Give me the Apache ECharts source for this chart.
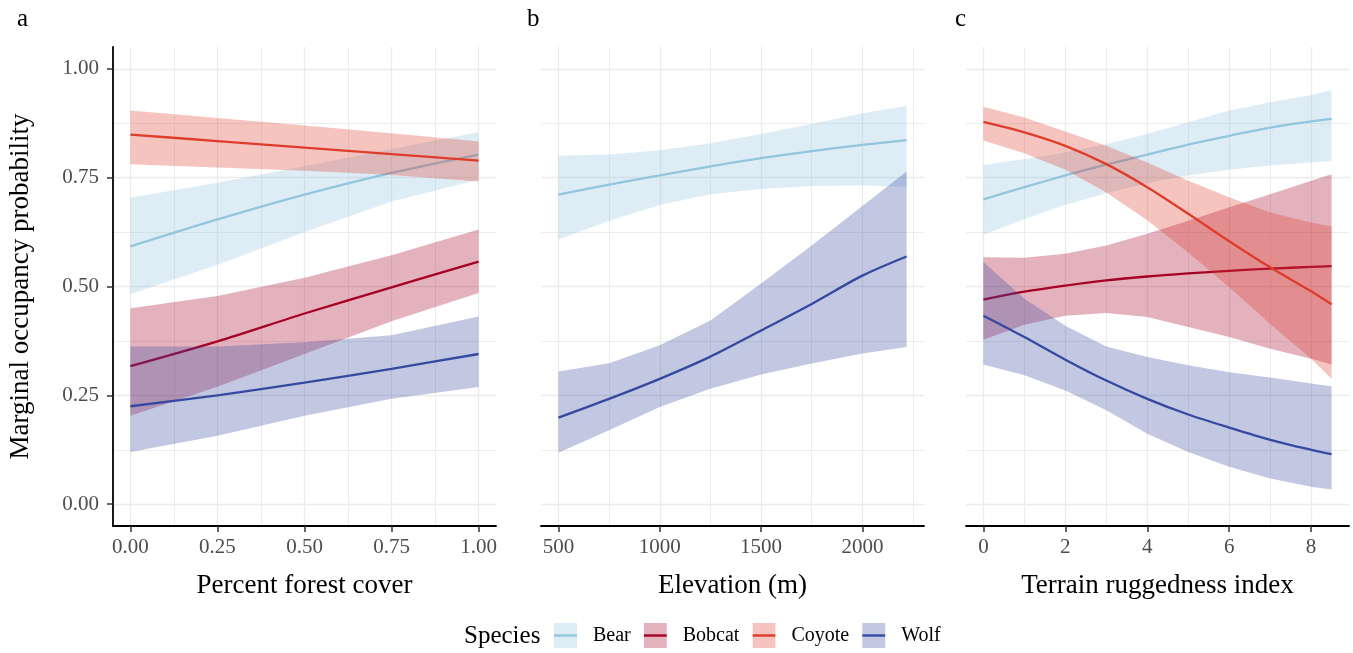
<!DOCTYPE html>
<html>
<head>
<meta charset="utf-8">
<title>Marginal occupancy probability</title>
<script src="https://cdn.jsdelivr.net/npm/echarts@6/dist/echarts.min.js"></script>
<style>
html, body { margin: 0; padding: 0; background: #fff; }
#main { width: 1353px; height: 653px; }
</style>
</head>
<body>
<div id="main"></div>
<script>
// panel a: percent forest cover
var forestX = [0, 0.25, 0.5, 0.75, 1];
var forestBear = [0.592, 0.654, 0.711, 0.761, 0.803];
var forestBearLo = [0.482, 0.550, 0.625, 0.695, 0.745];
var forestBearHi = [0.704, 0.738, 0.776, 0.816, 0.854];
var forestBobcat = [0.317, 0.374, 0.438, 0.498, 0.557];
var forestBobcatLo = [0.203, 0.270, 0.345, 0.420, 0.485];
var forestBobcatHi = [0.450, 0.478, 0.520, 0.572, 0.631];
var forestCoyote = [0.849, 0.834, 0.819, 0.804, 0.789];
var forestCoyoteLo = [0.781, 0.773, 0.766, 0.756, 0.741];
var forestCoyoteHi = [0.904, 0.887, 0.870, 0.852, 0.833];
var forestWolf = [0.225, 0.250, 0.279, 0.311, 0.345];
var forestWolfLo = [0.120, 0.157, 0.203, 0.242, 0.269];
var forestWolfHi = [0.362, 0.362, 0.372, 0.388, 0.431];

// panel b: elevation (only bear and wolf)
var elevX = [500, 750, 1000, 1250, 1500, 1750, 2000, 2218];
var elevBear = [0.711, 0.734, 0.755, 0.776, 0.795, 0.811, 0.825, 0.836];
var elevBearLo = [0.608, 0.651, 0.687, 0.712, 0.724, 0.731, 0.732, 0.729];
var elevBearHi = [0.800, 0.803, 0.813, 0.829, 0.850, 0.873, 0.898, 0.915];
var elevWolf = [0.199, 0.242, 0.288, 0.339, 0.399, 0.460, 0.525, 0.569];
var elevWolfLo = [0.118, 0.170, 0.223, 0.265, 0.298, 0.323, 0.346, 0.361];
var elevWolfHi = [0.305, 0.324, 0.365, 0.422, 0.507, 0.594, 0.685, 0.764];

// panel c: terrain ruggedness
var ruggedX = [0, 1, 2, 3, 4, 5, 6, 7, 8, 8.5];
var ruggedBear = [0.700, 0.728, 0.755, 0.780, 0.803, 0.826, 0.846, 0.865, 0.879, 0.885];
var ruggedBearLo = [0.619, 0.655, 0.688, 0.714, 0.737, 0.755, 0.768, 0.778, 0.785, 0.788];
var ruggedBearHi = [0.779, 0.793, 0.808, 0.827, 0.850, 0.877, 0.904, 0.923, 0.940, 0.951];
var ruggedBobcat = [0.470, 0.488, 0.502, 0.514, 0.523, 0.530, 0.536, 0.541, 0.545, 0.547];
var ruggedBobcatLo = [0.378, 0.412, 0.433, 0.439, 0.430, 0.407, 0.384, 0.357, 0.334, 0.321];
var ruggedBobcatHi = [0.567, 0.566, 0.575, 0.594, 0.621, 0.651, 0.682, 0.712, 0.743, 0.758];
var ruggedCoyote = [0.878, 0.854, 0.823, 0.781, 0.728, 0.667, 0.604, 0.544, 0.489, 0.459];
var ruggedCoyoteLo = [0.835, 0.806, 0.768, 0.716, 0.652, 0.578, 0.498, 0.414, 0.334, 0.288];
var ruggedCoyoteHi = [0.913, 0.888, 0.856, 0.823, 0.785, 0.743, 0.705, 0.670, 0.647, 0.638];
var ruggedWolf = [0.433, 0.384, 0.332, 0.284, 0.242, 0.206, 0.176, 0.148, 0.125, 0.115];
var ruggedWolfLo = [0.321, 0.296, 0.261, 0.216, 0.162, 0.120, 0.086, 0.059, 0.040, 0.034];
var ruggedWolfHi = [0.556, 0.472, 0.410, 0.362, 0.338, 0.319, 0.303, 0.291, 0.277, 0.271];

// ticks
var yTicks = [0, 0.25, 0.5, 0.75, 1];
var yMinor = [0.125, 0.375, 0.625, 0.875];
var forestTicks = [0, 0.25, 0.5, 0.75, 1];
var forestMinor = [0.125, 0.375, 0.625, 0.875];
var elevTicks = [500, 1000, 1500, 2000];
var elevMinor = [750, 1250, 1750, 2250];
var ruggedTicks = [0, 2, 4, 6, 8];
var ruggedMinor = [1, 3, 5, 7];

var speciesNames = ['Bear', 'Bobcat', 'Coyote', 'Wolf'];
var speciesColors = {Bear: '#92c5de', Bobcat: '#a50026', Coyote: '#de3d2b', Wolf: '#3549a0'};

var FONT = '"Liberation Serif", "DejaVu Serif", serif';

function fade(hex, a) {
    var n = parseInt(hex.slice(1), 16);
    return 'rgba(' + (n >> 16) + ',' + ((n >> 8) & 255) + ',' + (n & 255) + ',' + a + ')';
}

function zip(x, y) {
    return x.map(function (v, i) { return [v, y[i]]; });
}
function zip3(x, lo, hi) {
    return x.map(function (v, i) { return [v, lo[i], hi[i]]; });
}

// whole ribbon as one polygon, drawn on the first item
function ribbon(fill) {
    return function (params, api) {
        if (params.dataIndexInside !== 0) return null;
        var n = params.dataInsideLength, top = [], bottom = [];
        for (var i = 0; i < n; i++) {
            top.push(api.coord([api.value(0, i), api.value(2, i)]));
            bottom.unshift(api.coord([api.value(0, i), api.value(1, i)]));
        }
        return {
            type: 'polygon',
            shape: {points: top.concat(bottom)},
            style: {fill: fill}
        };
    };
}

var panels = [
    {left: 113, min: -0.05, max: 1.05, ticks: forestTicks, minor: forestMinor, name: 'Percent forest cover',
        fmt: function (v) { return v.toFixed(2); }, x: forestX,
        sp: {Bear: [forestBear, forestBearLo, forestBearHi], Bobcat: [forestBobcat, forestBobcatLo, forestBobcatHi],
             Coyote: [forestCoyote, forestCoyoteLo, forestCoyoteHi], Wolf: [forestWolf, forestWolfLo, forestWolfHi]}},
    {left: 541, min: 414, max: 2304, ticks: elevTicks, minor: elevMinor, name: 'Elevation (m)',
        fmt: function (v) { return String(v); }, x: elevX,
        sp: {Bear: [elevBear, elevBearLo, elevBearHi], Wolf: [elevWolf, elevWolfLo, elevWolfHi]}},
    {left: 966, min: -0.425, max: 8.925, ticks: ruggedTicks, minor: ruggedMinor, name: 'Terrain ruggedness index',
        fmt: function (v) { return String(v); }, x: ruggedX,
        sp: {Bear: [ruggedBear, ruggedBearLo, ruggedBearHi], Bobcat: [ruggedBobcat, ruggedBobcatLo, ruggedBobcatHi],
             Coyote: [ruggedCoyote, ruggedCoyoteLo, ruggedCoyoteHi], Wolf: [ruggedWolf, ruggedWolfLo, ruggedWolfHi]}}
];

var grids = [], xAxes = [], yAxes = [], series = [];
var gridLine = {show: true, lineStyle: {color: '#ebebeb', width: 1.3}};
var minorLine = {show: true, lineStyle: {color: '#ededed', width: 1}};

panels.forEach(function (p, k) {
    grids.push({left: p.left, width: 383, top: 47, height: 479});
    xAxes.push({
        type: 'value', gridIndex: k, min: p.min, max: p.max,
        name: p.name, nameLocation: 'middle', nameGap: 46,
        nameTextStyle: {fontFamily: FONT, fontSize: 27, color: '#000'},
        axisLine: {show: true, onZero: false, lineStyle: {color: '#000', width: 1.8}},
        axisTick: {show: true, length: 6, customValues: p.ticks, lineStyle: {color: '#333', width: 1.5}},
        axisLabel: {customValues: p.ticks, formatter: p.fmt, margin: 11,
            fontFamily: FONT, fontSize: 21, color: '#4d4d4d'},
        splitLine: gridLine
    });
    xAxes.push({
        type: 'value', gridIndex: k, min: p.min, max: p.max,
        axisLine: {show: false}, axisTick: {show: false, customValues: p.minor},
        axisLabel: {show: false}, splitLine: minorLine
    });
    var first = k === 0;
    yAxes.push({
        type: 'value', gridIndex: k, min: -0.05, max: 1.05,
        name: first ? 'Marginal occupancy probability' : '',
        nameLocation: 'middle', nameGap: 79,
        nameTextStyle: {fontFamily: FONT, fontSize: 27, color: '#000'},
        axisLine: {show: first, onZero: false, lineStyle: {color: '#000', width: 1.8}},
        axisTick: {show: first, length: 6, customValues: yTicks, lineStyle: {color: '#333', width: 1.5}},
        axisLabel: {show: first, customValues: yTicks, margin: 14,
            formatter: function (v) { return v.toFixed(2); },
            fontFamily: FONT, fontSize: 21, color: '#4d4d4d'},
        splitLine: gridLine
    });
    yAxes.push({
        type: 'value', gridIndex: k, min: -0.05, max: 1.05,
        axisLine: {show: false}, axisTick: {show: false, customValues: yMinor},
        axisLabel: {show: false}, splitLine: minorLine
    });

    var z = 2;
    speciesNames.forEach(function (s) {
        var d = p.sp[s];
        if (!d) return;
        series.push({
            name: s, type: 'custom', xAxisIndex: 2 * k, yAxisIndex: 2 * k,
            data: zip3(p.x, d[1], d[2]), encode: {x: 0, y: [1, 2]},
            renderItem: ribbon(fade(speciesColors[s], 0.3)),
            itemStyle: {color: speciesColors[s]},
            silent: true, z: z++
        });
        series.push({
            name: s, type: 'line', xAxisIndex: 2 * k, yAxisIndex: 2 * k,
            data: zip(p.x, d[0]), showSymbol: false, smooth: 0.3,
            lineStyle: {color: speciesColors[s], width: 2.3},
            itemStyle: {color: speciesColors[s]},
            silent: true, z: z++
        });
    });
});

function keyIcon(color) {
    var svg = "<svg xmlns='http://www.w3.org/2000/svg' width='34' height='25' viewBox='0 0 34 25'>" +
        "<rect x='0' y='0' width='23' height='25' fill='" + fade(color, 0.3) + "'/>" +
        "<rect x='0' y='11.3' width='23' height='2.4' fill='" + color + "'/></svg>";
    return 'image://data:image/svg+xml;charset=utf-8,' + encodeURIComponent(svg);
}

var chart = echarts.init(document.getElementById('main'));
chart.setOption({
    animation: false,
    backgroundColor: '#fff',
    textStyle: {fontFamily: FONT},
    grid: grids,
    xAxis: xAxes,
    yAxis: yAxes,
    legend: {
        left: 554, top: 623, padding: 0, itemWidth: 34, itemHeight: 25, itemGap: 13,
        selectedMode: false,
        textStyle: {fontFamily: FONT, fontSize: 20, color: '#000'},
        data: speciesNames.map(function (s) { return {name: s, icon: keyIcon(speciesColors[s])}; })
    },
    graphic: [
        {type: 'text', left: 17, top: 7, style: {text: 'a', font: '25px ' + FONT, fill: '#000'}},
        {type: 'text', left: 527, top: 7, style: {text: 'b', font: '25px ' + FONT, fill: '#000'}},
        {type: 'text', left: 955, top: 7, style: {text: 'c', font: '25px ' + FONT, fill: '#000'}},
        {type: 'text', left: 464, top: 624, style: {text: 'Species', font: '25px ' + FONT, fill: '#000'}}
    ],
    series: series
});
</script>
</body>
</html>
